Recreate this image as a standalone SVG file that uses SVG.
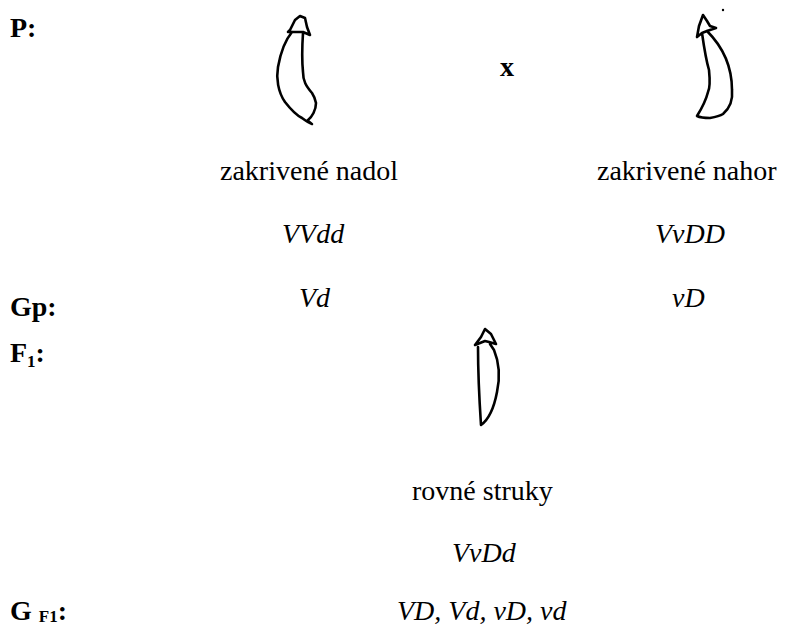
<svg xmlns="http://www.w3.org/2000/svg" width="787" height="630" viewBox="0 0 787 630">
  <style>
    text { font-family: "Liberation Serif", "Times New Roman", Times, serif; fill: #000; }
    .lbl { font-weight: bold; font-size: 28px; }
    .txt { font-size: 28px; }
    .gen { font-size: 28px; font-style: italic; }
    .sub { font-size: 17px; font-weight: bold; }
    .pod { fill: none; stroke: #000; stroke-width: 2.6; stroke-linejoin: round; stroke-linecap: round; }
  </style>
  <rect width="787" height="630" fill="#fff"/>

  <!-- row labels -->
  <g id="label-p"><text class="lbl" x="10" y="37">P:</text></g>
  <g id="label-gp"><text class="lbl" x="10" y="316">Gp:</text></g>
  <g id="label-f1"><text class="lbl" x="10" y="362">F<tspan class="sub" dy="5">1</tspan><tspan dy="-5">:</tspan></text></g>
  <g id="label-gf1"><text class="lbl" x="10" y="620">G <tspan class="sub" dy="2">F1</tspan><tspan dy="-2">:</tspan></text></g>

  <!-- parent 1: pod bent downward -->
  <g id="parent-down">
    <path class="pod" d="M288,32 L290,30 L295,20 L300,16 L305,18 L307,27 L310,35 L303,32 L292,32 Z
      M292,32 C287,38 281,50 278,67 C276,78 278,92 285,102 C292,111 298,116 302,118 C306,121 309,123 312,124
      C309,122 307,120 308,120 C312,117 316,110 316,103 C315,98 314,96 312,93 C306,86 303,81 303,72 C302,62 302,48 303,33"/>
    <text class="txt" x="220" y="180">zakrivené nadol</text>
    <text class="gen" x="282" y="243">VVdd</text>
    <text class="gen" x="299" y="307">Vd</text>
  </g>

  <!-- cross sign -->
  <g id="cross"><text class="lbl" x="500" y="76">x</text></g>

  <!-- parent 2: pod bent upward -->
  <g id="parent-up">
    <path class="pod" d="M697,37 L699,26 L703,15 L707,21 L710,26 L716,28 L707,31 L702,33 Z
      M702,33 C703,40 706,60 709,70 C710,80 710,88 708,92 C706,100 702,108 697,116
      C701,118 706,118 710,118 C716,117 720,116 723,114 C730,108 733,100 732,90 C732,70 726,50 707,31"/>
    <circle cx="723" cy="10" r="1.2" fill="#000"/>
    <text class="txt" x="597" y="180">zakrivené nahor</text>
    <text class="gen" x="655" y="243">VvDD</text>
    <text class="gen" x="672" y="307">vD</text>
  </g>

  <!-- F1 offspring: straight pod -->
  <g id="offspring">
    <path class="pod" d="M475,345 L481,337 L485,329 L491,334 L496,344 L489,342 L485,341 L480,343 Z
      M478,347 C478,370 479,395 481,425 C488,420 494,408 497,392 C500,378 499,362 494,350 L490,344"/>
    <text class="txt" x="412" y="500">rovné struky</text>
    <text class="gen" x="452" y="562">VvDd</text>
  </g>

  <!-- F1 gametes -->
  <g id="gametes-f1"><text class="gen" x="397" y="620">VD, Vd, vD, vd</text></g>
</svg>
